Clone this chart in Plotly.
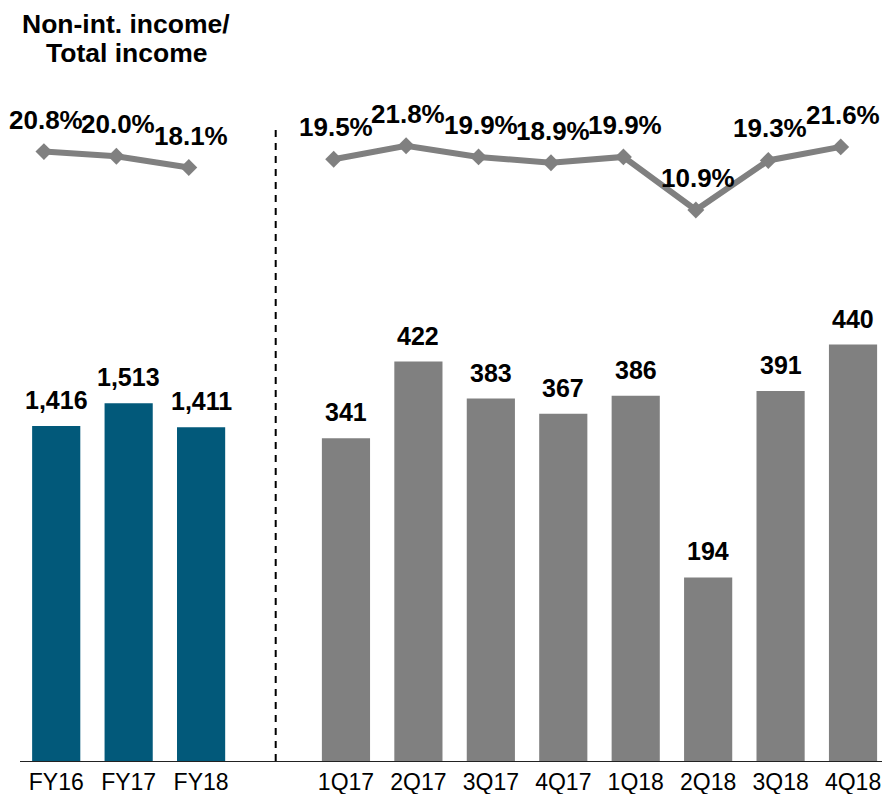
import plotly.graph_objects as go

# Annual and quarterly non-interest income, plus its share of total income
fy_labels = ["FY16", "FY17", "FY18"]
fy_income = [1416, 1513, 1411]
fy_ratio = [20.8, 20.0, 18.1]

q_labels = ["1Q17", "2Q17", "3Q17", "4Q17", "1Q18", "2Q18", "3Q18", "4Q18"]
q_income = [341, 422, 383, 367, 386, 194, 391, 440]
q_ratio = [19.5, 21.8, 19.9, 18.9, 19.9, 10.9, 19.3, 21.6]

gap_label = " "
all_labels = fy_labels + [gap_label] + q_labels

TEAL = "#02597A"
GREY = "#808080"
FONT = "Liberation Sans, Arial, sans-serif"

W, H = 882, 794
M_L, M_R, M_T, M_B = 20, 0, 0, 33
plot_h = H - M_T - M_B

# pixel scales of the three value axes
fy_px = 0.2365      # px per unit, annual bars
q_px = 0.9464       # px per unit, quarterly bars
pct_px = 5.9        # px per percentage point
pct_ref, pct_ref_y = 21.8, 145.7

fig = go.Figure()

fig.add_trace(go.Bar(x=fy_labels, y=fy_income, marker_color=TEAL,
                     marker_line_width=0, xaxis="x", yaxis="y",
                     showlegend=False, hoverinfo="skip"))
fig.add_trace(go.Bar(x=q_labels, y=q_income, marker_color=GREY,
                     marker_line_width=0, xaxis="x", yaxis="y2",
                     showlegend=False, hoverinfo="skip"))

line_style = dict(color=GREY, width=6)
marker_style = dict(symbol="diamond", size=13, color=GREY)
fig.add_trace(go.Scatter(x=fy_labels, y=fy_ratio, mode="lines+markers",
                         line=line_style, marker=marker_style,
                         xaxis="x2", yaxis="y3", showlegend=False,
                         hoverinfo="skip"))
fig.add_trace(go.Scatter(x=q_labels, y=q_ratio, mode="lines+markers",
                         line=line_style, marker=marker_style,
                         xaxis="x2", yaxis="y3", showlegend=False,
                         hoverinfo="skip"))

annotations = []
bar_font = dict(family=FONT, size=25, color="black")
pct_font = dict(family=FONT, size=26, color="black")
for lab, v in zip(fy_labels, fy_income):
    annotations.append(dict(x=lab, y=v, xref="x", yref="y", text=f"<b>{v:,}</b>",
                            showarrow=False, yanchor="middle", yshift=26,
                            font=bar_font))
for lab, v in zip(q_labels, q_income):
    annotations.append(dict(x=lab, y=v, xref="x", yref="y2", text=f"<b>{v:,}</b>",
                            showarrow=False, yanchor="middle", yshift=26,
                            font=bar_font))
for lab, v in zip(fy_labels + q_labels, fy_ratio + q_ratio):
    annotations.append(dict(x=lab, y=v, xref="x2", yref="y3", text=f"<b>{v:.1f}%</b>",
                            showarrow=False, yanchor="middle", yshift=32, xshift=2,
                            font=pct_font))

title_font = dict(family=FONT, size=26.5, color="black")
annotations.append(dict(x=126, y=H - 24, xref="paper", yref="paper",
                        text="<b>Non-int. income/</b>", showarrow=False,
                        font=title_font, xanchor="center", yanchor="middle"))
annotations.append(dict(x=126, y=H - 53, xref="paper", yref="paper",
                        text="<b>Total income</b>", showarrow=False,
                        font=title_font, xanchor="center", yanchor="middle"))
# convert title positions from pixels to paper fractions
plot_w = W - M_L - M_R
for a in annotations[-2:]:
    a["x"] = (a["x"] - M_L) / plot_w
    a["y"] = (a["y"] - M_B) / plot_h

slot_px = plot_w / 11.9
line_offset = 12.3 / slot_px

fig.update_layout(
    width=W, height=H,
    margin=dict(l=M_L, r=M_R, t=M_T, b=M_B),
    paper_bgcolor="white", plot_bgcolor="white",
    barmode="overlay", bargap=0.335,
    font=dict(family=FONT, color="black"),
    xaxis=dict(type="category", categoryorder="array", categoryarray=all_labels,
               range=[-0.5, 11.4], showline=True, linecolor="#222222", linewidth=1.2,
               showgrid=False, zeroline=False, ticks="",
               tickfont=dict(family=FONT, size=23, color="black")),
    xaxis2=dict(type="category", categoryorder="array", categoryarray=all_labels,
                range=[-0.5 + line_offset, 11.4 + line_offset], overlaying="x",
                visible=False),
    yaxis=dict(range=[0, plot_h / fy_px], visible=False),
    yaxis2=dict(range=[0, plot_h / q_px], overlaying="y", visible=False),
    yaxis3=dict(range=[pct_ref - (plot_h - pct_ref_y) / pct_px,
                       pct_ref + pct_ref_y / pct_px],
                overlaying="y", visible=False),
    annotations=annotations,
    shapes=[dict(type="line", xref="x", yref="paper", x0=3.03, x1=3.03,
                 y0=0, y1=(plot_h - 130) / plot_h,
                 line=dict(color="black", width=2, dash="7px,6px"))],
)

fig.write_html("out.html")
